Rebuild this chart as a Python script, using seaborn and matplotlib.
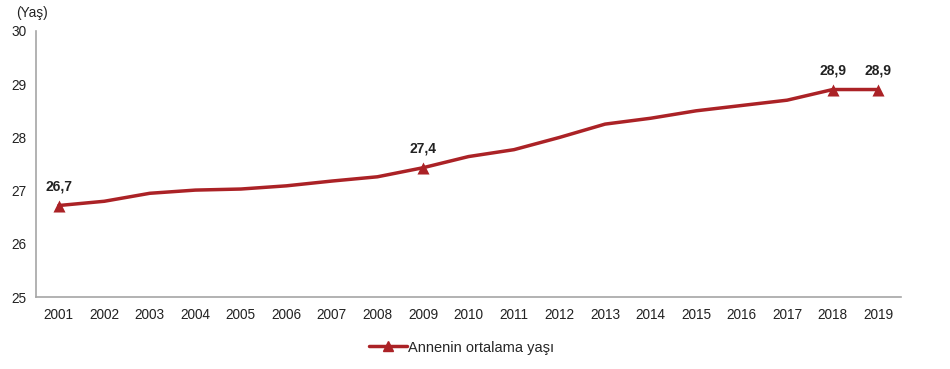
import numpy as np
import pandas as pd
import seaborn as sns
import matplotlib.pyplot as plt
from matplotlib.ticker import FixedLocator

years = [str(y) for y in range(2001, 2020)]
mean_age = [26.72, 26.80, 26.95, 27.01, 27.03, 27.09, 27.18, 27.26, 27.43, 27.64,
            27.77, 28.00, 28.25, 28.36, 28.50, 28.60, 28.70, 28.90, 28.90]
labeled_years = ['2001', '2009', '2018', '2019']
label_texts = ['26,7', '27,4', '28,9', '28,9']
series_name = 'Annenin ortalama yaşı'

df = pd.DataFrame({'Yıl': years, 'Yaş': mean_age})
df['pos'] = np.arange(len(df))

sns.set_style('white')
plt.rcParams['font.family'] = ['Liberation Sans', 'DejaVu Sans']

red = '#ab2226'
gray = '#a6a6a6'
txt = '#222222'

fig = plt.figure(figsize=(9.5, 3.69), dpi=100)
ax = fig.add_axes([0.0379, 0.195, 0.9105, 0.721])

sns.lineplot(data=df, x='pos', y='Yaş', color=red, linewidth=2.5, ax=ax, legend=False)

mk = df[df['Yıl'].isin(labeled_years)]
ax.scatter(mk['pos'], mk['Yaş'], marker='^', s=75, color=red, zorder=3, linewidths=0)
for (p, v), t in zip(zip(mk['pos'], mk['Yaş']), label_texts):
    ax.annotate(t, (p, v), xytext=(0, 9), textcoords='offset points',
                ha='center', va='bottom', fontsize=10, fontweight='bold', color=txt)

ax.set_xlim(-0.5, len(years) - 0.5)
ax.set_ylim(25, 30)
ax.set_yticks([25, 26, 27, 28, 29, 30])
ax.set_xticks(df['pos'])
ax.set_xticklabels(years)
ax.xaxis.set_minor_locator(FixedLocator(np.arange(-0.5, len(years), 1.0)))
ax.tick_params(axis='x', which='major', length=0, pad=8, labelsize=9.8, colors=txt)
ax.tick_params(axis='x', which='minor', length=4, width=1, color=gray, direction='out')
ax.tick_params(axis='y', length=4, width=1, color=gray, direction='out', labelsize=9.8,
               labelcolor=txt, pad=3)
ax.set_xlabel('')
ax.set_ylabel('')
for s in ['top', 'right']:
    ax.spines[s].set_visible(False)
for s in ['left', 'bottom']:
    ax.spines[s].set_color(gray)
    ax.spines[s].set_linewidth(1.2)

fig.text(0.034, 0.965, '(Yaş)', fontsize=9.8, color=txt, ha='center', va='center')

handle = plt.Line2D([], [], color=red, linewidth=2.5, marker='^', markersize=7)
fig.legend([handle], [series_name], loc='center', bbox_to_anchor=(0.486, 0.058),
           frameon=False, fontsize=10.5, handlelength=2.6, handletextpad=0.1)

fig.savefig('out.png', dpi=100)
